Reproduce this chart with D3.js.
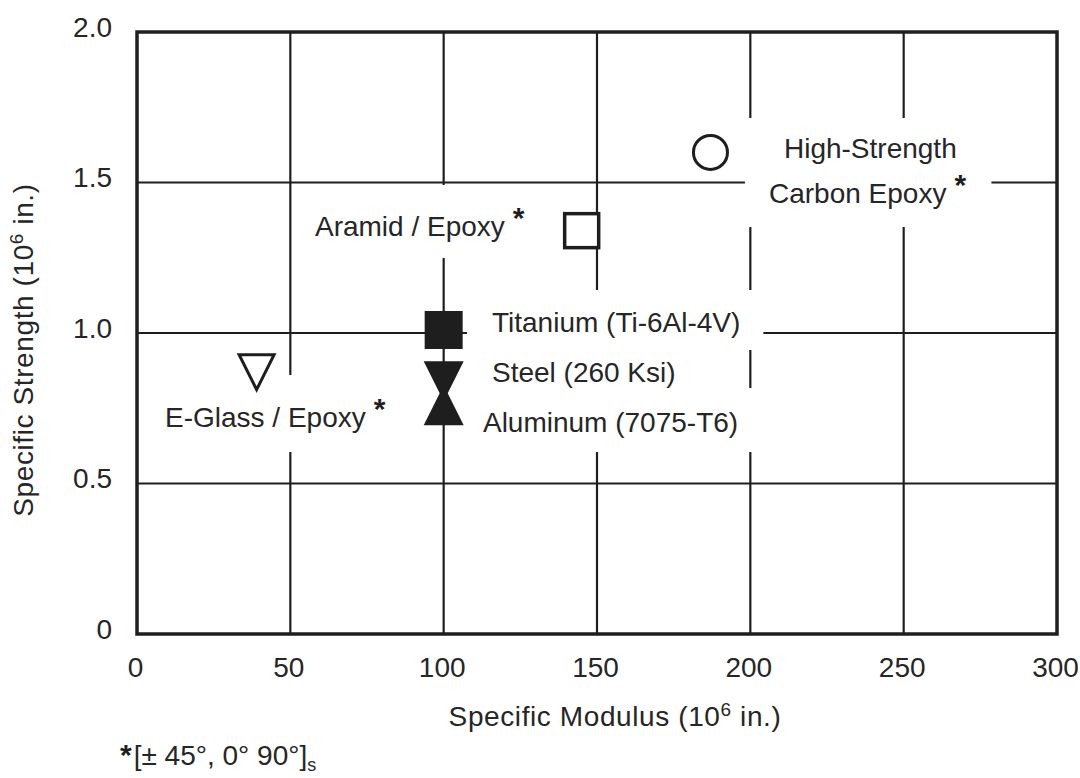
<!DOCTYPE html>
<html>
<head>
<meta charset="utf-8">
<script src="https://cdn.jsdelivr.net/npm/d3@7"></script>
<style>
  html, body { margin: 0; padding: 0; background: #fff; }
  svg { display: block; font-family: "Liberation Sans", Arial, Helvetica, sans-serif; }
</style>
</head>
<body>
<svg id="chart" width="1080" height="778"></svg>
<script>
// Specific strength vs. specific modulus of structural materials (both in 10^6 in.)
const materials = [
  "High-Strength Carbon Epoxy",
  "Aramid / Epoxy",
  "Titanium (Ti-6Al-4V)",
  "Steel (260 Ksi)",
  "Aluminum (7075-T6)",
  "E-Glass / Epoxy"
];
const specificModulus  = [187, 145, 100, 100, 100, 39];
const specificStrength = [1.60, 1.34, 1.01, 0.84, 0.76, 0.87];
// composites with the quasi-isotropic [±45°, 0° 90°]s layup carry an asterisk
const quasiIsotropic = [true, true, false, false, false, true];
const markerTypes = ["circle-open", "square-open", "square-filled",
                     "triangle-down-filled", "triangle-up-filled", "triangle-down-open"];
const labelLines = [
  ["High-Strength", "Carbon Epoxy"],
  ["Aramid / Epoxy"],
  ["Titanium (Ti-6Al-4V)"],
  ["Steel (260 Ksi)"],
  ["Aluminum (7075-T6)"],
  ["E-Glass / Epoxy"]
];
const xTicks = [0, 50, 100, 150, 200, 250, 300];
const xTickLabels = ["0", "50", "100", "150", "200", "250", "300"];
const yTicks = [0, 0.5, 1.0, 1.5, 2.0];
const yTickLabels = ["0", "0.5", "1.0", "1.5", "2.0"];

// ---- layout ----
const W = 1080, H = 778;
const margin = { left: 137, right: 23, top: 32, bottom: 144 };
const iw = W - margin.left - margin.right;
const ih = H - margin.top - margin.bottom;
const ink = "#1e1e1e";
const textInk = "#262626";
const fontSize = 28;

// label offsets (px, from the marker) per line, and white backing pads [top, right, bottom, left]
const labelLayout = [
  { lines: [[73.5, 5.6], [58.5, 50.6]], pad: [15, 25, 18, 24] },
  { lines: [[-266.7, 5.3]],             pad: [16, 20, 16, 20] },
  { lines: [[48.3, 2]],                 pad: [17, 23, 12, 25] },
  { lines: [[48.3, 0.8]],               pad: [12, 24, 10, 20] },
  { lines: [[39.3, 26.8]],              pad: [19, 24, 14, 20] },
  { lines: [[-91.6, 54.9]],             pad: [17, 20, 19, 15] }
];

const svg = d3.select("#chart");
const g = svg.append("g").attr("transform", `translate(${margin.left},${margin.top})`);

const x = d3.scaleLinear().domain([0, 300]).range([0, iw]);
const y = d3.scaleLinear().domain([0, 2]).range([ih, 0]);

// grid
const grid = g.append("g").attr("stroke", ink).attr("stroke-width", 2.2);
grid.selectAll("line.v").data(xTicks.filter(v => v > 0 && v < 300)).join("line")
  .attr("class", "v")
  .attr("x1", d => x(d)).attr("x2", d => x(d))
  .attr("y1", 0).attr("y2", ih);
grid.selectAll("line.h").data(yTicks.filter(v => v > 0 && v < 2)).join("line")
  .attr("class", "h")
  .attr("x1", 0).attr("x2", iw)
  .attr("y1", d => y(d)).attr("y2", d => y(d));

// layers: label backing boxes, frame, markers, labels
const boxLayer = g.append("g");
g.append("rect")
  .attr("x", 0).attr("y", 0).attr("width", iw).attr("height", ih)
  .attr("fill", "none").attr("stroke", ink).attr("stroke-width", 3.5);
const markerLayer = g.append("g");
const labelLayer = g.append("g");

const points = materials.map((m, i) => ({
  name: m, mod: specificModulus[i], str: specificStrength[i],
  star: quasiIsotropic[i], type: markerTypes[i], lines: labelLines[i], layout: labelLayout[i]
}));

function trianglePath(w, h, down) {
  return down
    ? `M${-w / 2},${-h / 2}L${w / 2},${-h / 2}L0,${h / 2}Z`
    : `M${-w / 2},${h / 2}L${w / 2},${h / 2}L0,${-h / 2}Z`;
}

points.forEach(p => {
  const px = x(p.mod), py = y(p.str);
  const mg = markerLayer.append("g").attr("transform", `translate(${px},${py})`);
  switch (p.type) {
    case "circle-open":
      mg.append("circle").attr("r", 17).attr("fill", "#fff").attr("stroke", ink).attr("stroke-width", 3);
      break;
    case "square-open":
      mg.append("rect").attr("x", -17).attr("y", -17).attr("width", 34).attr("height", 34)
        .attr("fill", "#fff").attr("stroke", ink).attr("stroke-width", 3.5);
      break;
    case "square-filled":
      mg.append("rect").attr("x", -19).attr("y", -19).attr("width", 38).attr("height", 38)
        .attr("fill", ink);
      break;
    case "triangle-down-filled":
      mg.append("path").attr("d", trianglePath(40, 40, true)).attr("fill", ink);
      break;
    case "triangle-up-filled":
      mg.append("path").attr("d", trianglePath(40, 40, false)).attr("fill", ink);
      break;
    case "triangle-down-open":
      mg.append("path").attr("d", trianglePath(35, 35, true))
        .attr("fill", "#fff").attr("stroke", ink).attr("stroke-width", 3)
        .attr("stroke-linejoin", "miter");
      break;
  }

  // label text with a white backing box that breaks the grid behind it
  const t = labelLayer.append("text")
    .attr("font-size", fontSize).attr("fill", textInk);
  p.lines.forEach((line, li) => {
    const [dx, dy] = p.layout.lines[li];
    t.append("tspan").attr("x", px + dx).attr("y", py + dy).text(line);
  });
  if (p.star) {
    t.append("tspan").attr("dx", 8).attr("dy", -8)
      .attr("font-size", 30).attr("font-weight", "bold").attr("fill", ink).text("*");
  }
  const bb = t.node().getBBox();
  const [pt, pr, pb, pl] = p.layout.pad;
  boxLayer.append("rect")
    .attr("x", bb.x - pl).attr("y", bb.y - pt)
    .attr("width", bb.width + pl + pr).attr("height", bb.height + pt + pb)
    .attr("fill", "#fff");
});

// axes
const xAxis = g.append("g").attr("transform", `translate(0,${ih})`)
  .attr("font-family", null)
  .call(d3.axisBottom(x).tickValues(xTicks).tickSize(0).tickFormat((d, i) => xTickLabels[i]));
xAxis.attr("font-family", null);
xAxis.select(".domain").remove();
xAxis.selectAll("text")
  .attr("font-size", fontSize).attr("fill", textInk)
  .attr("dy", null).attr("y", 43).attr("x", -2);

const yAxis = g.append("g")
  .call(d3.axisLeft(y).tickValues(yTicks).tickSize(0).tickFormat((d, i) => yTickLabels[i]));
yAxis.attr("font-family", null);
yAxis.select(".domain").remove();
yAxis.selectAll("text")
  .attr("font-size", fontSize).attr("fill", textInk)
  .attr("dy", null).attr("y", 4).attr("x", -25);

// axis titles
const xt = svg.append("text")
  .attr("x", 615).attr("y", 726).attr("text-anchor", "middle")
  .attr("font-size", fontSize).attr("fill", textInk).attr("letter-spacing", 0.6);
xt.append("tspan").text("Specific Modulus (10");
xt.append("tspan").attr("font-size", 19).attr("dy", -10).text("6");
xt.append("tspan").attr("dy", 10).text(" in.)");

const yt = svg.append("text")
  .attr("transform", "translate(33,350) rotate(-90)")
  .attr("text-anchor", "middle")
  .attr("font-size", fontSize).attr("fill", textInk).attr("letter-spacing", 0.6);
yt.append("tspan").text("Specific Strength (10");
yt.append("tspan").attr("font-size", 19).attr("dy", -10).text("6");
yt.append("tspan").attr("dy", 10).text(" in.)");

// footnote for the laminate layup
const fn = svg.append("text")
  .attr("x", 120).attr("y", 765)
  .attr("font-size", fontSize).attr("fill", textInk);
fn.append("tspan").attr("font-size", 30).attr("font-weight", "bold").attr("fill", ink).text("*");
fn.append("tspan").attr("dx", 2).text("[± 45°, 0° 90°]");
fn.append("tspan").attr("font-size", 18).attr("dy", 6).text("s");
</script>
</body>
</html>
